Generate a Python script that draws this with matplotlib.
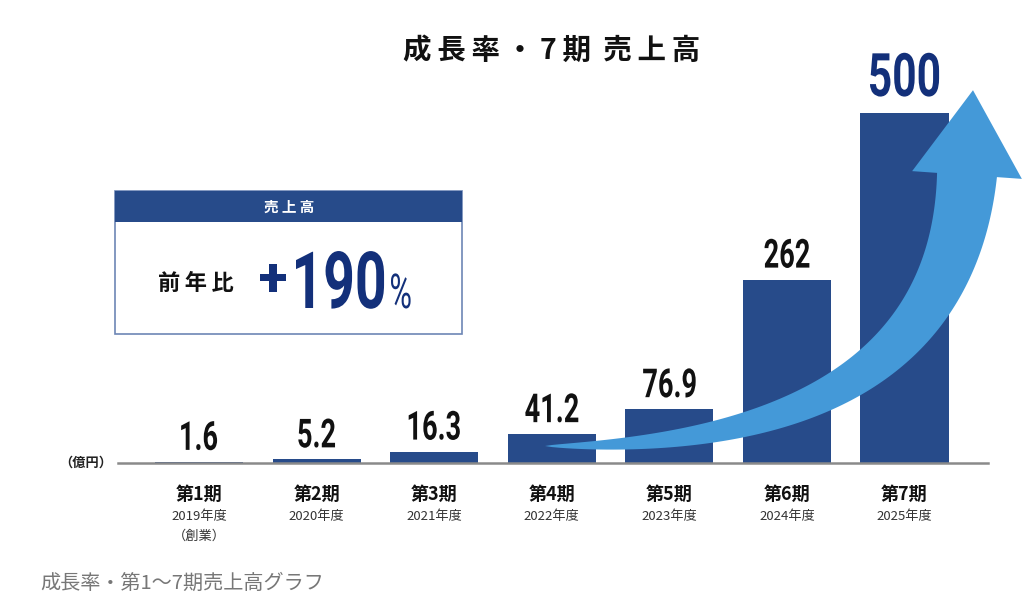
import numpy as np
import matplotlib.pyplot as plt
from matplotlib.patches import Polygon, Rectangle, PathPatch
from matplotlib.textpath import TextPath
from matplotlib.font_manager import FontProperties
from matplotlib.transforms import Affine2D

plt.rcParams['font.family'] = ['Noto Sans CJK JP', 'DejaVu Sans']

# data
periods = ['第1期', '第2期', '第3期', '第4期', '第5期', '第6期', '第7期']
years = ['2019年度', '2020年度', '2021年度', '2022年度', '2023年度', '2024年度', '2025年度']
sales = [1.6, 5.2, 16.3, 41.2, 76.9, 262, 500]
sales_text = ['1.6', '5.2', '16.3', '41.2', '76.9', '262', '500']

W, H = 1024, 602
navy = '#274b8a'
dark_navy = '#13307a'
arrow_blue = '#4499d8'


def px(x, y):
    # reference pixel (from top-left) -> figure fraction
    return x / W, 1 - y / H


def narrow_text(x, y, s, em, sx, color, weight='bold', ha='center'):
    # condensed number text: Roboto squeezed sideways, x/y in display pixels (baseline)
    tp = TextPath((0, 0), s, size=em, prop=FontProperties(family='Roboto', weight=weight))
    bb = tp.get_extents()
    if ha == 'center':
        x0 = x - (bb.x0 + bb.width / 2) * sx
    else:
        x0 = x - bb.x0 * sx
    tr = Affine2D().scale(sx, 1).translate(x0, y)
    fig.patches.append(PathPatch(tp, transform=tr, facecolor=color, edgecolor='none', zorder=5))


fig = plt.figure(figsize=(W / 100, H / 100), dpi=100)
ax = fig.add_axes([118 / W, 1 - 463 / H, 870 / W, 350 / H])
x = np.arange(len(sales))
ax.bar(x, sales, width=0.75, color=navy, zorder=2)
ax.set_xlim(-0.69, 6.71)
ax.set_ylim(0, 500)
for s in ['top', 'right', 'left']:
    ax.spines[s].set_visible(False)
ax.spines['bottom'].set_color('#8a8a8a')
ax.spines['bottom'].set_linewidth(1.8)
ax.set_yticks([])
ax.set_xticks([])

# value labels
for i, (v, t) in enumerate(zip(sales, sales_text)):
    bx, by = ax.transData.transform((i, v))
    if i == len(sales) - 1:
        narrow_text(bx, by + 17, t, 60, 0.71, dark_navy)
    else:
        narrow_text(bx, by + 12, t, 40, 0.68, '#111111')

# x labels
for i, (p, yr) in enumerate(zip(periods, years)):
    ax.annotate(p, (i, 0), xytext=(0, -22.5), textcoords='offset points', ha='center',
                va='center', fontsize=13, fontweight='bold', color='#111111')
    ax.annotate(yr, (i, 0), xytext=(0, -38.5), textcoords='offset points', ha='center',
                va='center', fontsize=9.5, color='#333333')
ax.annotate('（創業）', (0, 0), xytext=(0, -53), textcoords='offset points', ha='center',
            va='center', fontsize=9.5, color='#333333')
fig.text(*px(86, 463), '（億円）', ha='center', va='center', fontsize=9.5,
         fontweight='bold', color='#222222')

# curved arrow
P0, P1, P2, P3 = map(np.array, [(545, 446), (830, 448), (955, 345), (967, 175)])
t = np.linspace(0, 1, 120)[:, None]
C = (1 - t) ** 3 * P0 + 3 * (1 - t) ** 2 * t * P1 + 3 * (1 - t) * t ** 2 * P2 + t ** 3 * P3
D = 3 * (1 - t) ** 2 * (P1 - P0) + 6 * (1 - t) * t * (P2 - P1) + 3 * t ** 2 * (P3 - P2)
T = D / np.linalg.norm(D, axis=1, keepdims=True)
N = np.column_stack([T[:, 1], -T[:, 0]])
w = 30 * t ** 0.7
upper = C + N * w
lower = C - N * w
head = [C[-1] + N[-1] * 55, C[-1] + T[-1] * 85, C[-1] - N[-1] * 55]
pts = np.vstack([upper, head, lower[::-1]])
pts_fig = np.column_stack([pts[:, 0] / W, 1 - pts[:, 1] / H])
fig.patches.append(Polygon(pts_fig, closed=True, transform=fig.transFigure,
                           facecolor=arrow_blue, edgecolor='none', zorder=3))

# title (thin spaces for the letter spacing)
title = '\u2009'.join('成長率・7期') + '\u2009 ' + '\u2009'.join('売上高')
fig.text(*px(552, 51), title, ha='center', va='center', fontsize=20.5,
         fontweight='bold', color='#111111')

# box
bx0, by0, bx1, by1 = 115, 191, 462, 334
fig.patches.append(Rectangle(px(bx0, by1), (bx1 - bx0) / W, (by1 - by0) / H,
                             transform=fig.transFigure, facecolor='white',
                             edgecolor='#6d86b5', linewidth=1.2))
fig.patches.append(Rectangle(px(bx0, 222), (bx1 - bx0) / W, (222 - by0) / H,
                             transform=fig.transFigure, facecolor=navy, edgecolor='none'))
fig.text(*px(289, 207), '売 上 高', ha='center', va='center', fontsize=10.5,
         fontweight='bold', color='white')
fig.text(*px(196, 283), '\u2009'.join('前年比'), ha='center', va='center', fontsize=16,
         fontweight='bold', color='#111111')
narrow_text(273, H - 296, '+', 54, 1.0, dark_navy)
narrow_text(296, H - 308, '190', 79, 0.70, dark_navy, ha='left')
narrow_text(391, H - 308, '%', 48, 0.64, dark_navy, weight='normal', ha='left')

# caption
fig.text(*px(40, 583), '成長率・第1〜7期売上高グラフ', ha='left', va='center',
         fontsize=14.5, color='#777777')

fig.savefig('out.png', dpi=100)
